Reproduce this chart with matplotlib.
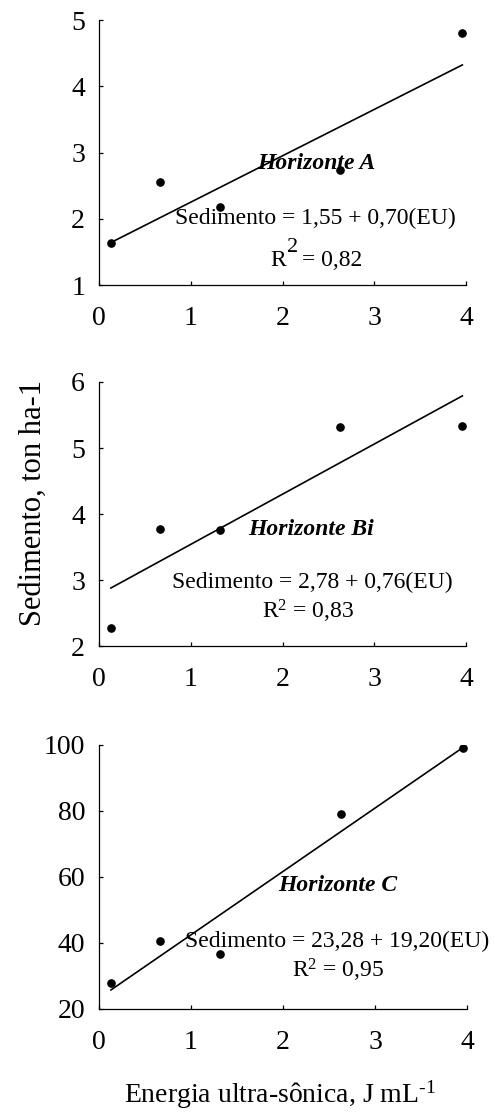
import matplotlib
matplotlib.use("Agg")
import matplotlib.pyplot as plt
import numpy as np

plt.rcParams['font.family'] = ['Liberation Serif', 'DejaVu Serif']
plt.rcParams['mathtext.fontset'] = 'custom'
plt.rcParams['mathtext.rm'] = 'Liberation Serif'
plt.rcParams['mathtext.it'] = 'Liberation Serif:italic'
plt.rcParams['mathtext.bf'] = 'Liberation Serif:bold'

# Ultrasonic energy applied (J mL-1)
energy = [0.13, 0.66, 1.32, 2.63, 3.96]

# Sediment per horizon (ton ha-1)
sed_A = [1.63, 2.56, 2.18, 2.73, 4.81]
sed_Bi = [2.27, 3.78, 3.75, 5.32, 5.34]
sed_C = [28.0, 40.7, 36.6, 79.0, 99.2]

# Fitted regressions: intercept, slope, R2
fit_A = (1.55, 0.70, "0,82")
fit_Bi = (2.78, 0.76, "0,83")
fit_C = (23.28, 19.20, "0,95")

horizons = ["Horizonte A", "Horizonte Bi", "Horizonte C"]
x_ticks = [0, 1, 2, 3, 4]
y_ticks_A = [1, 2, 3, 4, 5]
y_ticks_Bi = [2, 3, 4, 5, 6]
y_ticks_C = [20, 40, 60, 80, 100]

W, H = 495, 1115
fig = plt.figure(figsize=(W / 100, H / 100), dpi=100)


def make_axes(left, top, right, bottom):
    return fig.add_axes([left / W, 1 - bottom / H, (right - left) / W, (bottom - top) / H])


def fmt(v):
    return f"{v:.2f}".replace(".", ",")


def panel(ax, y, fit, yticks, name, name_xy, eq_xy, r2_xy, big_sup=False):
    a, b, r2 = fit
    ax.plot(energy, y, 'o', color='black', ms=5.2, zorder=3)
    xs = np.array([energy[0], energy[-1]])
    ax.plot(xs, a + b * xs, color='black', lw=1.2)
    ax.set_xlim(0, 4)
    ax.set_ylim(yticks[0], yticks[-1])
    ax.set_xticks(x_ticks)
    ax.set_yticks(yticks)
    for s in ('top', 'right'):
        ax.spines[s].set_visible(False)
    for s in ('left', 'bottom'):
        ax.spines[s].set_linewidth(0.9)
    ax.tick_params(direction='in', length=3, width=0.9, labelsize=20)
    ax.tick_params(axis='x', pad=15)
    ax.tick_params(axis='y', pad=10)
    ax.text(*name_xy, name, fontsize=17, fontweight='bold', fontstyle='italic',
            ha='center', va='center')
    ax.text(*eq_xy, f"Sedimento = {fmt(a)} + {fmt(b)}(EU)", fontsize=17,
            ha='center', va='center')
    if big_sup:
        ax.annotate("R", r2_xy, fontsize=17, ha='left', va='baseline')
        ax.annotate("2", r2_xy, xytext=(12.2, 10.1), textcoords='offset points',
                    fontsize=16, ha='left', va='baseline')
        ax.annotate(f"= {r2}", r2_xy, xytext=(23.0, 0), textcoords='offset points',
                    fontsize=17, ha='left', va='baseline')
    else:
        ax.text(*r2_xy, r"R$^2$ = " + r2, fontsize=17, ha='center', va='center')


ax1 = make_axes(99, 20, 466, 285)
panel(ax1, sed_A, fit_A, y_ticks_A, horizons[0],
      (2.37, 2.84), (2.36, 2.01), (1.866, 1.287), big_sup=True)

ax2 = make_axes(99, 382, 466, 646)
panel(ax2, sed_Bi, fit_Bi, y_ticks_Bi, horizons[1],
      (2.31, 3.77), (2.32, 2.96), (2.28, 2.52))

ax3 = make_axes(99, 745, 467, 1009)
panel(ax3, sed_C, fit_C, y_ticks_C, horizons[2],
      (2.60, 57.5), (2.59, 40.6), (2.60, 31.7))

fig.text(33 / W, 1 - 503 / H, "Sedimento, ton ha-1", fontsize=22,
         rotation=90, ha='center', va='center')
fig.text(280 / W, 1 - 1103 / H, r"Energia ultra-sônica, J mL$^{\text{-1}}$",
         fontsize=20, ha='center', va='baseline')

fig.savefig("out.png", dpi=100, facecolor='white')
